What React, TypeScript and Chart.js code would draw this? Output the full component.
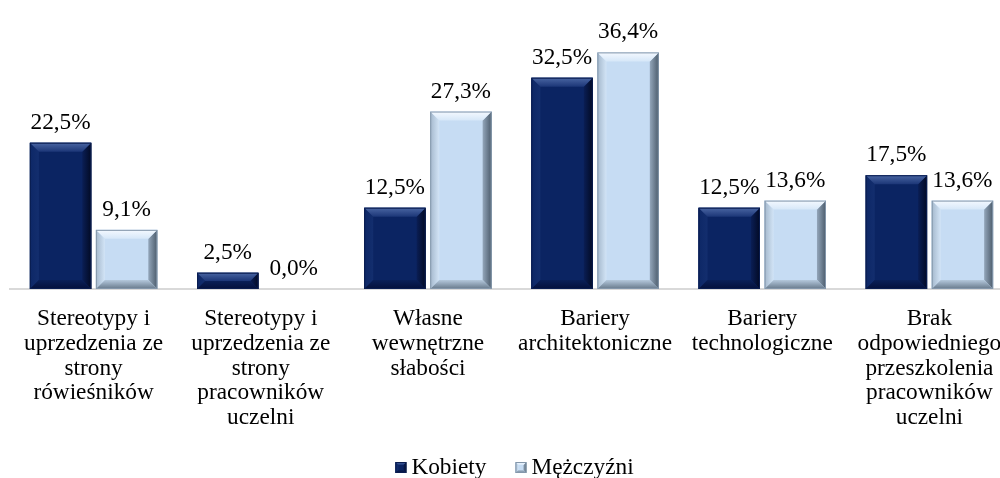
import React, { useEffect, useRef } from "react";
import { Chart, registerables } from "chart.js";

Chart.register(...registerables);

const categories: string[][] = [
  ["Stereotypy i", "uprzedzenia ze", "strony", "rówieśników"],
  ["Stereotypy i", "uprzedzenia ze", "strony", "pracowników", "uczelni"],
  ["Własne", "wewnętrzne", "słabości"],
  ["Bariery", "architektoniczne"],
  ["Bariery", "technologiczne"],
  ["Brak", "odpowiedniego", "przeszkolenia", "pracowników", "uczelni"],
];
const kobiety = [22.5, 2.5, 12.5, 32.5, 12.5, 17.5];
const mezczyzni = [9.1, 0.0, 27.3, 36.4, 13.6, 13.6];
const seriesNames = ["Kobiety", "Mężczyźni"];

const FONT = "'Liberation Serif', 'Times New Roman', serif";
const FS = 23.3;

type Bevel = {
  face: string;
  top: [string, string];
  left: [string, string];
  right: [string, string];
  bottom: [string, string];
  edge: string;
};
const bevels: Bevel[] = [
  {
    face: "#0b2462",
    top: ["#4a66a3", "#1c3677"],
    left: ["#0d2766", "#132e6e"],
    right: ["#020a24", "#0a1e55"],
    bottom: ["#04103a", "#0a2058"],
    edge: "#0a1d50",
  },
  {
    face: "#c6dcf3",
    top: ["#f4f9ff", "#d6e7f8"],
    left: ["#a4b8cc", "#d2e4f6"],
    right: ["#4b5b6b", "#93a6ba"],
    bottom: ["#66788a", "#b4c8dc"],
    edge: "#8497ab",
  },
];

function poly(ctx: CanvasRenderingContext2D, pts: number[][], fill: string | CanvasGradient) {
  ctx.beginPath();
  ctx.moveTo(pts[0][0], pts[0][1]);
  for (let i = 1; i < pts.length; i++) ctx.lineTo(pts[i][0], pts[i][1]);
  ctx.closePath();
  ctx.fillStyle = fill;
  ctx.fill();
}

function grad(ctx: CanvasRenderingContext2D, x0: number, y0: number, x1: number, y1: number, c: [string, string]) {
  const g = ctx.createLinearGradient(x0, y0, x1, y1);
  g.addColorStop(0, c[0]);
  g.addColorStop(1, c[1]);
  return g;
}

function drawBevelBox(ctx: CanvasRenderingContext2D, l: number, t: number, r: number, b: number, bv: Bevel, dMax: number) {
  const h = b - t;
  const w = r - l;
  if (h <= 0) return;
  const d = Math.min(dMax, h / 2, w / 2);
  ctx.fillStyle = bv.face;
  ctx.fillRect(l, t, w, h);
  poly(ctx, [[l, t], [l + d, t + d], [l + d, b - d], [l, b]], grad(ctx, l, 0, l + d, 0, bv.left));
  poly(ctx, [[r, t], [r, b], [r - d, b - d], [r - d, t + d]], grad(ctx, r, 0, r - d, 0, bv.right));
  poly(ctx, [[l, b], [r, b], [r - d, b - d], [l + d, b - d]], grad(ctx, 0, b, 0, b - d, bv.bottom));
  poly(ctx, [[l, t], [r, t], [r - d, t + d], [l + d, t + d]], grad(ctx, 0, t, 0, t + d, bv.top));
  ctx.strokeStyle = bv.edge;
  ctx.lineWidth = 1;
  ctx.strokeRect(l + 0.5, t + 0.5, w - 1, h - 1);
}

const bevelPlugin = {
  id: "bevelBars",
  afterDatasetsDraw(chart: any) {
    const ctx: CanvasRenderingContext2D = chart.ctx;
    ctx.save();
    chart.data.datasets.forEach((ds: any, i: number) => {
      const meta = chart.getDatasetMeta(i);
      meta.data.forEach((bar: any, j: number) => {
        const p = bar.getProps(["x", "y", "base", "width"], true);
        const l = p.x - p.width / 2;
        const r = p.x + p.width / 2;
        const t = Math.min(p.y, p.base);
        const b = Math.max(p.y, p.base);
        drawBevelBox(ctx, l, t, r, b, bevels[i], 9);
        const v = ds.data[j] as number;
        ctx.fillStyle = "#000";
        ctx.font = `${FS}px ${FONT}`;
        ctx.textAlign = "center";
        ctx.textBaseline = "alphabetic";
        ctx.fillText(v.toFixed(1).replace(".", ",") + "%", p.x, t - 14);
      });
    });
    ctx.restore();
  },
  afterDraw(chart: any) {
    const ctx: CanvasRenderingContext2D = chart.ctx;
    ctx.save();
    ctx.font = `${FS}px ${FONT}`;
    ctx.textAlign = "left";
    ctx.textBaseline = "alphabetic";
    const box = 11;
    const gapText = 5;
    const gapItem = 29;
    const widths = seriesNames.map((n) => ctx.measureText(n).width);
    const total = widths.reduce((a, w) => a + box + gapText + w, 0) + gapItem;
    const cx = (chart.chartArea.left + chart.chartArea.right) / 2 + 3;
    let x = cx - total / 2;
    const baseY = 474;
    seriesNames.forEach((n, i) => {
      drawBevelBox(ctx, x, baseY - 12, x + box, baseY - 1, bevels[i], 3);
      ctx.fillStyle = "#000";
      ctx.fillText(n, x + box + gapText, baseY);
      x += box + gapText + widths[i] + gapItem;
    });
    ctx.restore();
  },
};

export default function App() {
  const ref = useRef<HTMLCanvasElement | null>(null);
  useEffect(() => {
    if (!ref.current) return;
    const chart = new Chart(ref.current, {
      type: "bar",
      data: {
        labels: categories,
        datasets: [
          { label: seriesNames[0], data: kobiety, backgroundColor: bevels[0].face, borderWidth: 0 },
          { label: seriesNames[1], data: mezczyzni, backgroundColor: bevels[1].face, borderWidth: 0 },
        ],
      },
      options: {
        responsive: false,
        animation: false,
        devicePixelRatio: 1,
        layout: { padding: { left: 10, right: 11, top: 29, bottom: 0 } },
        datasets: { bar: { categoryPercentage: 0.79, barPercentage: 0.93 } },
        plugins: { legend: { display: false }, tooltip: { enabled: false } },
        scales: {
          x: {
            grid: { display: false, drawTicks: false },
            border: { display: true, color: "#d9d9d9", width: 2 },
            ticks: {
              autoSkip: false,
              maxRotation: 0,
              minRotation: 0,
              padding: 18,
              color: "#000",
              font: { family: FONT, size: FS, lineHeight: 1.055 },
            },
            afterFit: (scale: any) => {
              scale.height = 189;
            },
          },
          y: { display: false, min: 0, max: 40 },
        },
      },
      plugins: [bevelPlugin],
    });
    return () => chart.destroy();
  }, []);
  return (
    <div
      style={{
        position: "fixed",
        left: 0,
        top: 0,
        width: 1000,
        height: 478,
        overflow: "hidden",
        background: "#fff",
      }}
    >
      <canvas ref={ref} width={1024} height={478} style={{ display: "block", width: 1024, height: 478 }} />
    </div>
  );
}
